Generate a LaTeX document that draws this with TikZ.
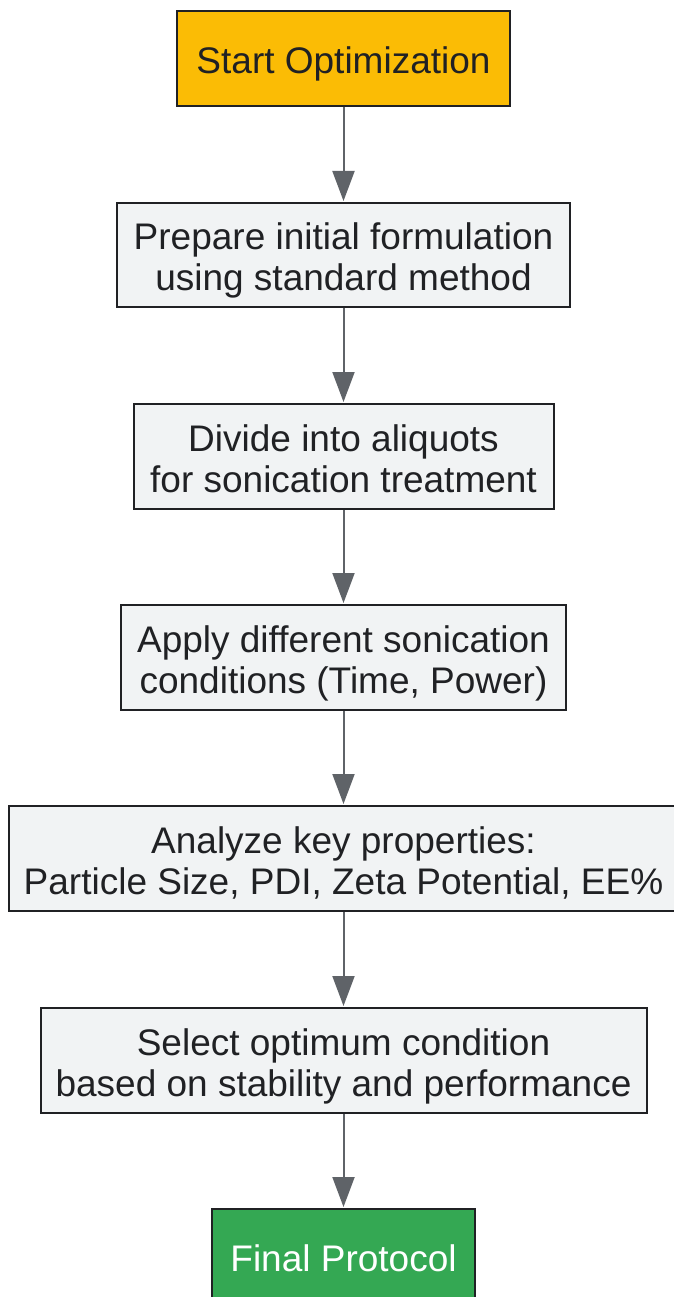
\documentclass[tikz,border=0pt]{standalone}
\usepackage{fontspec}
\setmainfont{Liberation Sans}
\usetikzlibrary{arrows.meta}
\definecolor{startc}{HTML}{FBBC05}
\definecolor{stepc}{HTML}{F1F3F4}
\definecolor{endc}{HTML}{34A853}
\definecolor{edgec}{HTML}{202124}
\definecolor{arrc}{HTML}{5F6368}
\newcommand{\boxtext}[1]{\raisebox{-7pt}[\height][\depth]{\begin{tabular}{@{}c@{}}#1\end{tabular}}}
\tikzset{
  box/.style={draw=edgec, line width=2pt, fill=stepc, text=edgec,
    inner sep=0pt, font=\fontsize{37}{41}\selectfont},
  flow/.style={draw=arrc, line width=2pt, -{Triangle[length=30pt,width=22pt]}, shorten >=1pt}
}
\begin{document}
\begin{tikzpicture}[x=1pt,y=1pt]
\useasboundingbox (0,0) rectangle (673,-1297);
\node[box, fill=startc, minimum width=333pt, minimum height=95pt] (n1) at (343.5,-58.5) {\boxtext{Start Optimization}};
\node[box, minimum width=453pt, minimum height=104pt] (n2) at (343.5,-255) {\boxtext{Prepare initial formulation\\using standard method}};
\node[box, minimum width=420pt, minimum height=105pt] (n3) at (343.5,-456.5) {\boxtext{Divide into aliquots\\for sonication treatment}};
\node[box, minimum width=445pt, minimum height=105pt] (n4) at (343.5,-657.5) {\boxtext{Apply different sonication\\conditions (Time, Power)}};
\node[box, minimum width=669pt, minimum height=105pt] (n5) at (343.5,-858.5) {\boxtext{Analyze key properties:\\Particle Size, PDI, Zeta Potential, EE\%}};
\node[box, minimum width=606pt, minimum height=105pt] (n6) at (343.5,-1060.5) {\boxtext{Select optimum condition\\based on stability and performance}};
\node[box, fill=endc, text=white, minimum width=263pt, minimum height=95pt] (n7) at (343.5,-1256.5) {\boxtext{Final Protocol}};
\draw[flow] (n1.south) -- (n2.north);
\draw[flow] (n2.south) -- (n3.north);
\draw[flow] (n3.south) -- (n4.north);
\draw[flow] (n4.south) -- (n5.north);
\draw[flow] (n5.south) -- (n6.north);
\draw[flow] (n6.south) -- (n7.north);
\end{tikzpicture}
\end{document}
